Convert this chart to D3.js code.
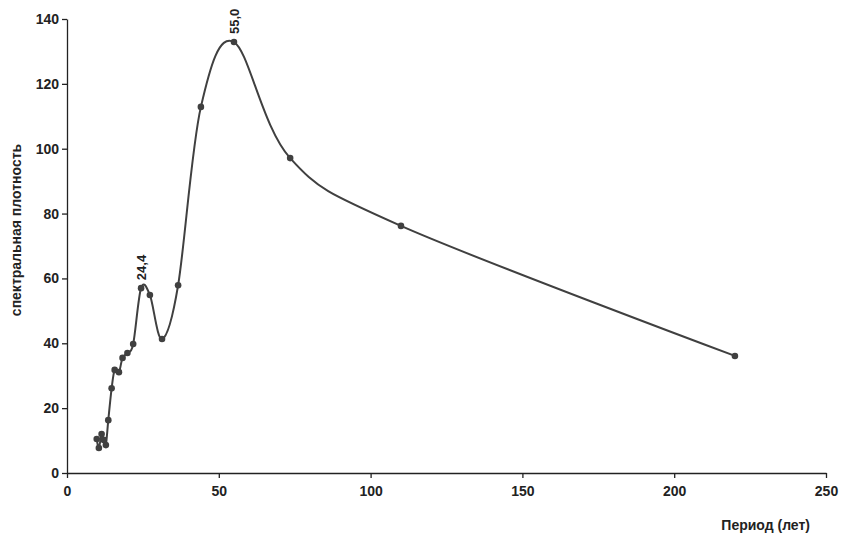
<!DOCTYPE html>
<html><head><meta charset="utf-8">
<script src="https://cdn.jsdelivr.net/npm/d3@7"></script>
<style>body{margin:0;background:#fff}text{font-family:"Liberation Sans",Arial,sans-serif;font-weight:bold;fill:#222}</style>
</head><body>
<script>
const period = [9.8, 10.5, 11.4, 12.1, 12.8, 13.6, 14.7, 15.7, 17.1, 18.3, 19.9, 21.8, 24.4, 27.3, 31.3, 36.6, 44.1, 55.0, 73.5, 110, 220];
const density = [10.5, 7.7, 12.0, 10.2, 8.6, 16.3, 26.1, 31.8, 31.1, 35.5, 37.0, 39.8, 57.0, 54.9, 41.3, 57.9, 112.9, 132.9, 97.1, 76.2, 36.1];
const peaks = [{x: 24.4, y: 57.0, label: "24,4"}, {x: 55.0, y: 132.9, label: "55,0"}];
const xTicks = [0, 50, 100, 150, 200, 250];
const yTicks = [0, 20, 40, 60, 80, 100, 120, 140];

const w = 843, h = 536;
const svg = d3.select("body").append("svg").attr("width", w).attr("height", h);
const x = d3.scaleLinear().domain([0, 250]).range([67, 826]);
const y = d3.scaleLinear().domain([0, 140]).range([473, 19]);
const col = "#404040";

const xa = svg.append("g").attr("transform", "translate(0,473)")
  .call(d3.axisBottom(x).tickValues(xTicks).tickSize(5).tickSizeOuter(0));
const ya = svg.append("g").attr("transform", "translate(67,0)")
  .call(d3.axisLeft(y).tickValues(yTicks).tickSize(5).tickSizeOuter(0));
[xa, ya].forEach(a => {
  a.selectAll("path,line").attr("stroke", "#222").attr("stroke-width", 1.3);
  a.selectAll("text").style("font-size", "14px").attr("fill", "#222");
});
xa.selectAll("text").attr("dy", "1.1em");

const pts = period.map((p, i) => [p, density[i]]);
svg.append("path").datum(pts)
  .attr("d", d3.line().x(d => x(d[0])).y(d => y(d[1])).curve(d3.curveCardinal.tension(0)))
  .attr("fill", "none").attr("stroke", col).attr("stroke-width", 2);
svg.selectAll("circle").data(pts).enter().append("circle")
  .attr("cx", d => x(d[0])).attr("cy", d => y(d[1])).attr("r", 3.3).attr("fill", col);

svg.selectAll(".pk").data(peaks).enter().append("text")
  .attr("transform", d => `translate(${x(d.x) + 5},${y(d.y) - 8}) rotate(-90)`)
  .style("font-size", "13px").text(d => d.label);

svg.append("text").attr("transform", "translate(21,230) rotate(-90)")
  .attr("text-anchor", "middle").style("font-size", "14px").text("спектральная плотность");
svg.append("text").attr("x", 810).attr("y", 530).attr("text-anchor", "end")
  .style("font-size", "14px").text("Период (лет)");
</script>
</body></html>
